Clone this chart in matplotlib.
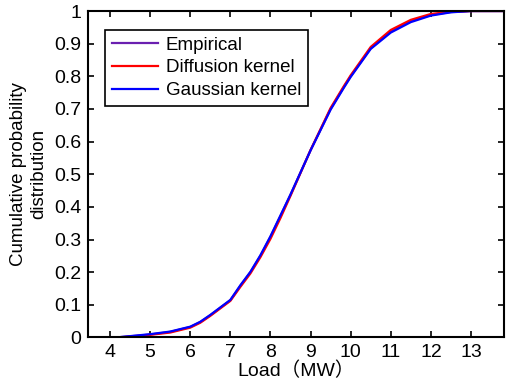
import matplotlib
matplotlib.use("Agg")
import matplotlib.pyplot as plt
from matplotlib.ticker import FuncFormatter

# Data (Load in MW, cumulative probability)
load = [3.45, 4.0, 4.25, 4.75, 5.0, 5.5, 6.0, 6.25, 6.5, 7.0, 7.25, 7.5, 7.75, 8.0, 8.25,
        8.5, 9.0, 9.5, 9.83, 10.0, 10.5, 11.0, 11.5, 12.0, 12.5, 13.0, 13.82]
empirical = [0.0, 0.0, 0.001, 0.006, 0.009, 0.017, 0.032, 0.047, 0.068, 0.114, 0.158, 0.200,
             0.250, 0.308, 0.372, 0.437, 0.574, 0.700, 0.767, 0.800, 0.886, 0.937, 0.969,
             0.988, 0.997, 1.0, 1.0]
diffusion = [0.0, 0.0, 0.0, 0.005, 0.008, 0.015, 0.030, 0.045, 0.066, 0.112, 0.155, 0.196,
             0.246, 0.302, 0.366, 0.434, 0.574, 0.703, 0.770, 0.803, 0.890, 0.942, 0.973,
             0.991, 0.998, 1.0, 1.0]
gaussian = [0.0, 0.0, 0.001, 0.007, 0.010, 0.018, 0.033, 0.048, 0.069, 0.115, 0.160, 0.201,
            0.252, 0.310, 0.374, 0.438, 0.573, 0.698, 0.765, 0.798, 0.884, 0.934, 0.966,
            0.986, 0.996, 1.0, 1.0]
labels = ["Empirical", "Diffusion kernel", "Gaussian kernel"]
xticks = [4, 5, 6, 7, 8, 9, 10, 11, 12, 13]
yticks = [0, 0.1, 0.2, 0.3, 0.4, 0.5, 0.6, 0.7, 0.8, 0.9, 1.0]

plt.rcParams['font.family'] = ['Liberation Sans', 'Noto Sans CJK SC', 'DejaVu Sans']

fig = plt.figure(figsize=(5.1, 3.8), dpi=100)
ax = fig.add_axes([0.1725, 0.112, 0.8155, 0.859])

ax.plot(load, empirical, color='#6a1fb0', lw=1.6, label=labels[0])
ax.plot(load, diffusion, color='#ff0000', lw=1.6, label=labels[1])
ax.plot(load, gaussian, color='#0000ff', lw=1.6, label=labels[2])

ax.set_xlim(3.45, 13.82)
ax.set_ylim(0, 1)
ax.set_xticks(xticks)
ax.set_yticks(yticks)
ax.yaxis.set_major_formatter(FuncFormatter(lambda v, p: f"{v:g}"))
ax.tick_params(direction='in', top=True, right=True, labelsize=14, length=4, width=1.2, pad=5)
for s in ax.spines.values():
    s.set_linewidth(1.5)

ax.set_xlabel("Load\uff08MW\uff09", fontsize=14, labelpad=0)
ax.set_ylabel("Cumulative probability\ndistribution", fontsize=13.5, labelpad=5)

leg = ax.legend(loc='upper left', bbox_to_anchor=(0.041, 0.942), fontsize=13.5,
                frameon=True, fancybox=False, edgecolor='black', framealpha=1,
                handlelength=2.5, handletextpad=0.4, labelspacing=0.3,
                borderpad=0.35, borderaxespad=0)
leg.get_frame().set_linewidth(1.2)

fig.savefig("out.png", dpi=100)
